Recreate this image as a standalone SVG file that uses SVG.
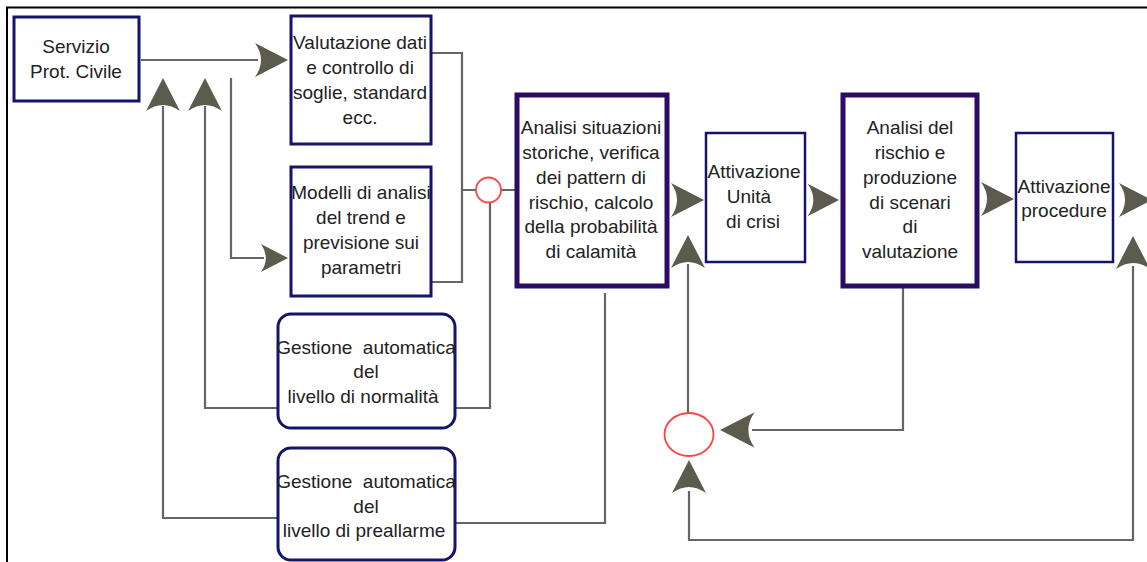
<svg xmlns="http://www.w3.org/2000/svg" xmlns:xlink="http://www.w3.org/1999/xlink" width="1147" height="562" viewBox="0 0 1147 562">
<style>
  .t { font-family: "Liberation Sans", Arial, sans-serif; font-size: 19px; fill: #222; text-anchor: middle; white-space: pre; }
  .box { fill: #fff; stroke: #14146a; stroke-width: 3; }
  .thick { fill: #fff; stroke: #2a0c62; stroke-width: 5; }
  .thin { fill: #fff; stroke: #14146a; stroke-width: 2.5; }
  .ln { fill: none; stroke: #656565; stroke-width: 2.2; }
  .ah { fill: #5c5c4e; }
  .sum { fill: #fff; stroke: #f44; stroke-width: 1.8; }
</style>
<defs>
  <path id="ah" d="M0,0 L-33,-17 Q-21,0 -33,17 Z"/>
</defs>
<rect width="1147" height="562" fill="#fff"/>
<path d="M7,562 V7.5 H1147" fill="none" stroke="#000" stroke-width="2"/>

<g id="connectors">
  <path class="ln" d="M141,60 H258"/>
  <path class="ln" d="M431,53 H462 V282 H431"/>
  <path class="ln" d="M462,190 H476 M501,190 H515"/>
  <path class="ln" d="M490,203 V408 H455"/>
  <path class="ln" d="M278,408 H205 V106"/>
  <path class="ln" d="M278,518 H163 V106"/>
  <path class="ln" d="M231,78 V258 H264"/>
  <path class="ln" d="M455,523 H605 V293"/>
  <path class="ln" d="M688,413 V264"/>
  <path class="ln" d="M903,287 V430 H752"/>
  <path class="ln" d="M689,491 V540 H1133 V266"/>
  <g class="ah">
    <use xlink:href="#ah" transform="translate(288,60)"/>
    <use xlink:href="#ah" transform="translate(163,78) rotate(-90)"/>
    <use xlink:href="#ah" transform="translate(205,78) rotate(-90)"/>
    <use xlink:href="#ah" transform="translate(288,258) scale(0.82)"/>
    <use xlink:href="#ah" transform="translate(704,200)"/>
    <use xlink:href="#ah" transform="translate(839,200) scale(0.95)"/>
    <use xlink:href="#ah" transform="translate(1014,199)"/>
    <use xlink:href="#ah" transform="translate(1152,200)"/>
    <use xlink:href="#ah" transform="translate(688,235) rotate(-90)"/>
    <use xlink:href="#ah" transform="translate(1133,236) rotate(-90)"/>
    <use xlink:href="#ah" transform="translate(720,430) rotate(180) scale(1.05)"/>
    <use xlink:href="#ah" transform="translate(689,460) rotate(-90)"/>
  </g>
  <circle class="sum" cx="488.5" cy="190" r="12.5"/>
  <ellipse class="sum" cx="689" cy="434.5" rx="24.5" ry="21.5"/>
</g>

<g id="servizio">
  <rect class="box" x="14" y="17" width="125" height="84"/>
  <text class="t" x="76" y="53">Servizio</text>
  <text class="t" x="76" y="78">Prot. Civile</text>
</g>

<g id="valutazione">
  <rect class="box" x="291" y="16" width="140" height="128" stroke-width="4"/>
  <text class="t" x="360" y="49">Valutazione dati</text>
  <text class="t" x="360" y="74">e controllo di</text>
  <text class="t" x="360" y="99">soglie, standard</text>
  <text class="t" x="360" y="124">ecc.</text>
</g>

<g id="modelli">
  <rect class="box" x="291" y="167" width="140" height="129" stroke-width="4"/>
  <text class="t" x="361" y="199">Modelli di analisi</text>
  <text class="t" x="361" y="224">del trend e</text>
  <text class="t" x="361" y="249">previsione sui</text>
  <text class="t" x="361" y="274">parametri</text>
</g>

<g id="normalita">
  <rect class="box" x="278" y="314" width="177" height="114" rx="13" stroke-width="2.5"/>
  <text class="t" x="366" y="354">Gestione  automatica</text>
  <text class="t" x="366" y="378">del</text>
  <text class="t" x="363" y="403">livello di normalità</text>
</g>

<g id="preallarme">
  <rect class="box" x="278" y="448" width="177" height="112" rx="13" stroke-width="2.5"/>
  <text class="t" x="366" y="488">Gestione  automatica</text>
  <text class="t" x="366" y="513">del</text>
  <text class="t" x="364" y="537">livello di preallarme</text>
</g>

<g id="analisi-situazioni">
  <rect class="thick" x="517" y="95" width="150" height="191"/>
  <text class="t" x="591" y="134">Analisi situazioni</text>
  <text class="t" x="591" y="159">storiche, verifica</text>
  <text class="t" x="591" y="184">dei pattern di</text>
  <text class="t" x="591" y="209">rischio, calcolo</text>
  <text class="t" x="591" y="233">della probabilità</text>
  <text class="t" x="591" y="258">di calamità</text>
</g>

<g id="attivazione-unita">
  <rect class="thin" x="706" y="133" width="99" height="129"/>
  <text class="t" x="754" y="178">Attivazione</text>
  <text class="t" x="749" y="203">Unità</text>
  <text class="t" x="753" y="228">di crisi</text>
</g>

<g id="analisi-rischio">
  <rect class="thick" x="843" y="95" width="134" height="191"/>
  <text class="t" x="910" y="134">Analisi del</text>
  <text class="t" x="910" y="159">rischio e</text>
  <text class="t" x="910" y="184">produzione</text>
  <text class="t" x="910" y="209">di scenari</text>
  <text class="t" x="910" y="233">di</text>
  <text class="t" x="910" y="258">valutazione</text>
</g>

<g id="attivazione-procedure">
  <rect class="thin" x="1016" y="133" width="97" height="129"/>
  <text class="t" x="1064" y="193">Attivazione</text>
  <text class="t" x="1064" y="217">procedure</text>
</g>
</svg>
